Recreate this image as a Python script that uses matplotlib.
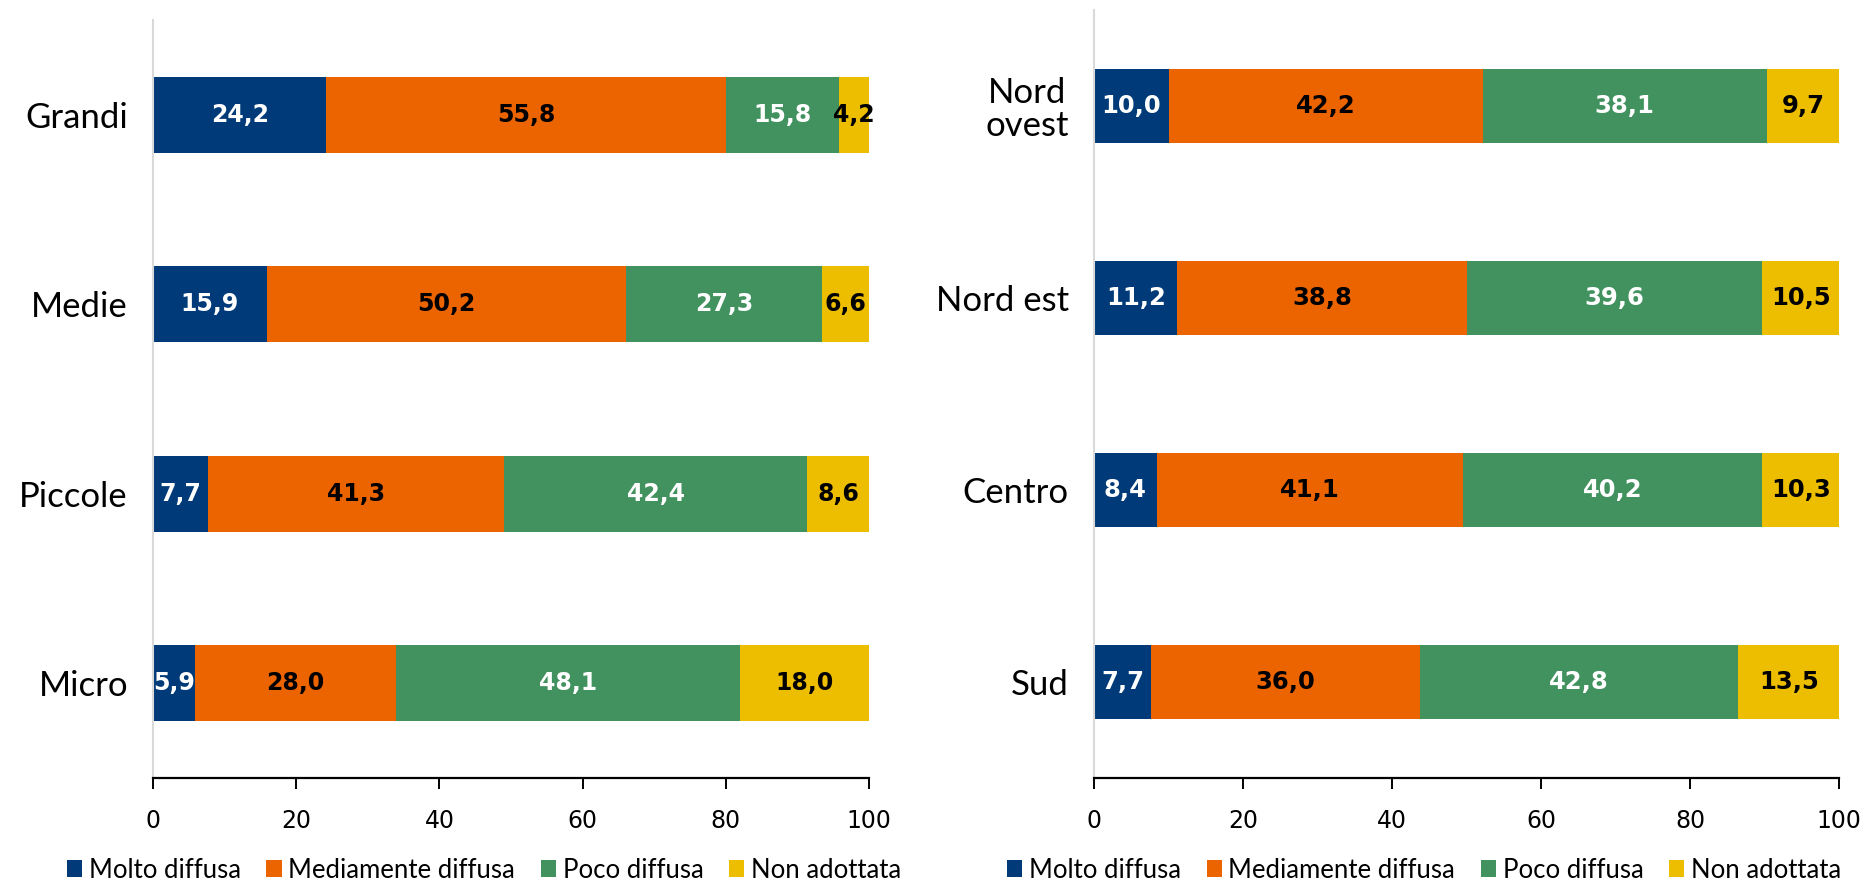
import matplotlib
matplotlib.use("Agg")
import matplotlib.pyplot as plt
from matplotlib.patches import Patch

series = ["Molto diffusa", "Mediamente diffusa", "Poco diffusa", "Non adottata"]
colors = ["#003A78", "#EC6400", "#41925E", "#EDBE00"]
text_colors = ["white", "black", "white", "black"]

left_cats = ["Grandi", "Medie", "Piccole", "Micro"]
left_molto = [24.2, 15.9, 7.7, 5.9]
left_medi = [55.8, 50.2, 41.3, 28.0]
left_poco = [15.8, 27.3, 42.4, 48.1]
left_non = [4.2, 6.6, 8.6, 18.0]

right_cats = ["Nord\novest", "Nord est", "Centro", "Sud"]
right_molto = [10.0, 11.2, 8.4, 7.7]
right_medi = [42.2, 38.8, 41.1, 36.0]
right_poco = [38.1, 39.6, 40.2, 42.8]
right_non = [9.7, 10.5, 10.3, 13.5]

xticks = [0, 20, 40, 60, 80, 100]

fig = plt.figure(figsize=(18.62, 8.83), dpi=100)

def draw(ax, cats, data, vsize, bar_h):
    y = list(range(len(cats)))
    left = [0.0] * len(cats)
    for vals, col, tc in zip(data, colors, text_colors):
        ax.barh(y, vals, left=left, height=bar_h, color=col, edgecolor="none")
        for yi, v, l in zip(y, vals, left):
            ax.text(l + v / 2, yi, f"{v:.1f}".replace(".", ","), ha="center", va="center",
                    color=tc, fontsize=vsize, fontweight="bold", family="DejaVu Sans")
        left = [a + b for a, b in zip(left, vals)]
    ax.set_xlim(0, 100)
    ax.set_ylim(3.5, -0.5)
    ax.set_yticks(y)
    ax.set_yticklabels(cats, fontsize=25, family="Lato", linespacing=1.05,
                       multialignment="center")
    ax.set_xticks(xticks)
    ax.set_xticklabels([str(t) for t in xticks], fontsize=17, family="DejaVu Sans")
    for s in ["top", "right"]:
        ax.spines[s].set_visible(False)
    ax.spines["left"].set_color("#D9D9D9")
    ax.spines["left"].set_linewidth(1.5)
    ax.spines["bottom"].set_color("black")
    ax.spines["bottom"].set_linewidth(1.6)
    ax.tick_params(axis="y", length=0, pad=18)
    ax.tick_params(axis="x", length=8, width=1.4, direction="out", pad=14)

ax1 = fig.add_axes([153 / 1862, 1 - 778 / 883, 716 / 1862, 758 / 883])
draw(ax1, left_cats, [left_molto, left_medi, left_poco, left_non], 17, 0.4)

ax2 = fig.add_axes([1094 / 1862, 1 - 778 / 883, 745 / 1862, 768 / 883])
draw(ax2, right_cats, [right_molto, right_medi, right_poco, right_non], 17.5, 0.39)

handles = [Patch(facecolor=c, edgecolor="none") for c in colors]
for cx in [484 / 1862, 1424 / 1862]:
    fig.legend(handles, series, loc="center", bbox_to_anchor=(cx, 1 - 870 / 883), ncol=4,
               frameon=False, prop={"family": "Lato", "size": 18.5},
               handlelength=0.6, handleheight=0.6, handletextpad=0.25, columnspacing=1.0)

fig.savefig("out.png", dpi=100)
